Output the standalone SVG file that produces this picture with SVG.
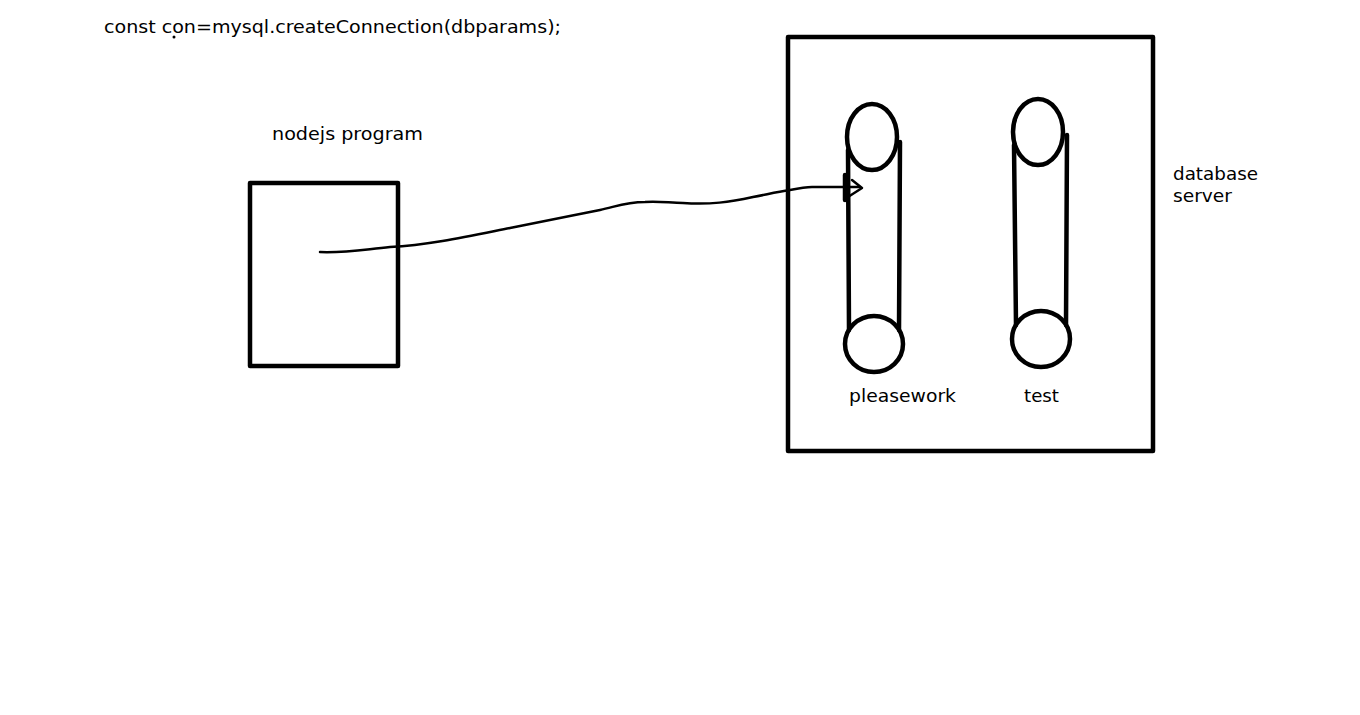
<svg xmlns="http://www.w3.org/2000/svg" width="1360" height="715" viewBox="0 0 1360 715">
<style>
.t{font-family:"DejaVu Sans","Liberation Sans",sans-serif;font-size:17px;fill:#000}
.s{fill:none;stroke:#000;stroke-width:4.5;stroke-linecap:round;stroke-linejoin:round}
.c{fill:none;stroke:#000;stroke-width:2.5;stroke-linecap:round;stroke-linejoin:round}
</style>
<rect width="1360" height="715" fill="#fff"/>
<text class="t" x="104" y="33" textLength="457" lengthAdjust="spacingAndGlyphs">const con=mysql.createConnection(dbparams);</text>
<circle cx="174" cy="37" r="1.5" fill="#000"/>
<g id="nodejs">
<rect class="s" x="250" y="183" width="148" height="183" stroke-linecap="butt" stroke-linejoin="miter"/>
<text class="t" x="272" y="140" textLength="151" lengthAdjust="spacingAndGlyphs">nodejs program</text>
</g>
<g id="server">
<rect class="s" x="788" y="37" width="365" height="414" stroke-linecap="butt" stroke-linejoin="miter"/>
<text class="t" x="1173" y="180" textLength="85" lengthAdjust="spacingAndGlyphs">database</text>
<text class="t" x="1173" y="202" textLength="59" lengthAdjust="spacingAndGlyphs">server</text>
</g>
<g id="pleasework">
<path class="s" d="M848 150 L849 330 M900 142 L899 330"/>
<ellipse class="s" cx="872" cy="137" rx="25" ry="33" fill="#fff"/>
<ellipse class="s" cx="874" cy="344" rx="29" ry="28"/>
<text class="t" x="849" y="402" textLength="107" lengthAdjust="spacingAndGlyphs">pleasework</text>
</g>
<g id="test">
<path class="s" d="M1014 145 L1016 325 M1067 135 L1066 325"/>
<ellipse class="s" cx="1038" cy="132" rx="25" ry="33" fill="#fff"/>
<ellipse class="s" cx="1041" cy="339" rx="29" ry="28"/>
<text class="t" x="1024" y="402" textLength="35" lengthAdjust="spacingAndGlyphs">test</text>
</g>
<g id="connectors">
<path class="c" d="M320 252 C345 253 360 250 390 247 C430 245 470 236 510 228 C545 221 570 216 600 210 C615 207 625 202 645 202 C660 201 670 203 683 203 C710 205 730 202 753 197 C765 195 775 192 790 190 C800 188 805 187 812 187 L860 187"/>
<path class="c" d="M852 180 L862 188 L848 197"/>
<path d="M845 175 L845 200" stroke="#000" stroke-width="4.5" stroke-linecap="round"/>
</g>
</svg>
